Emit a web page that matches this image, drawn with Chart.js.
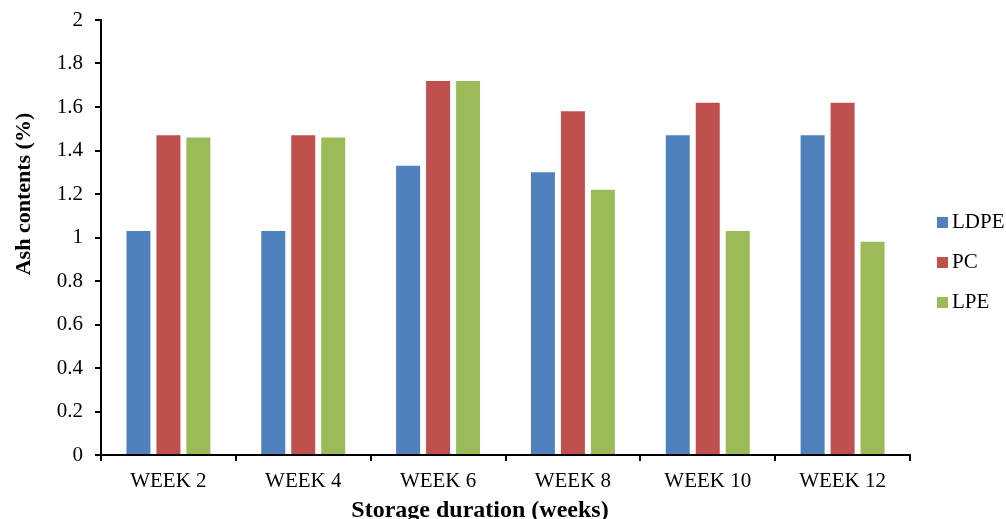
<!DOCTYPE html>
<html>
<head>
<meta charset="utf-8">
<title>Ash contents by storage duration</title>
<script src="https://cdn.jsdelivr.net/npm/chart.js@4.4.1/dist/chart.umd.min.js"></script>
<style>
  html, body { margin: 0; padding: 0; background: #ffffff; }
  #chart { display: block; }
</style>
</head>
<body>
<canvas id="chart" width="1006" height="519"></canvas>
<script>
// Storage weeks on the category axis
const categories = ['WEEK 2', 'WEEK 4', 'WEEK 6', 'WEEK 8', 'WEEK 10', 'WEEK 12'];

// Ash contents (%) for each packaging material
const ldpeValues = [1.03, 1.03, 1.33, 1.30, 1.47, 1.47];
const pcValues   = [1.47, 1.47, 1.72, 1.58, 1.62, 1.62];
const lpeValues  = [1.46, 1.46, 1.72, 1.22, 1.03, 0.98];

const seriesNames = ['LDPE', 'PC', 'LPE'];

// Value axis labels, one per 0.2 step
const yTickLabels = ['0', '0.2', '0.4', '0.6', '0.8', '1', '1.2', '1.4', '1.6', '1.8', '2'];

const yTitle = 'Ash contents (%)';
const xTitle = 'Storage duration (weeks)';

const FONT = "'Liberation Serif', 'Times New Roman', serif";

// Axis titles and a right-hand legend drawn on the canvas
const decorations = {
  id: 'decorations',
  afterDraw(chart) {
    const ctx = chart.ctx;
    ctx.save();
    ctx.fillStyle = '#000000';
    ctx.textAlign = 'center';
    ctx.textBaseline = 'alphabetic';

    // vertical axis title
    ctx.font = 'bold 22px ' + FONT;
    ctx.save();
    ctx.translate(30, 194);
    ctx.rotate(-Math.PI / 2);
    ctx.fillText(yTitle, 0, 0);
    ctx.restore();

    // horizontal axis title
    ctx.font = 'bold 24px ' + FONT;
    ctx.fillText(xTitle, 480, 517);

    // legend
    ctx.font = '21px ' + FONT;
    ctx.textAlign = 'left';
    ctx.textBaseline = 'middle';
    chart.data.datasets.forEach((ds, i) => {
      const cy = 222.5 + i * 40;
      ctx.fillStyle = ds.backgroundColor;
      ctx.fillRect(937, cy - 5.5, 11, 11);
      ctx.fillStyle = '#000000';
      ctx.fillText(ds.label, 952, cy);
    });
    ctx.restore();
  }
};

const colors = ['#4F81BD', '#C0504D', '#9BBB59'];
const seriesValues = [ldpeValues, pcValues, lpeValues];

new Chart(document.getElementById('chart'), {
  type: 'bar',
  data: {
    labels: categories,
    datasets: seriesValues.map((vals, i) => ({
      label: seriesNames[i],
      data: vals,
      backgroundColor: colors[i],
      borderWidth: 0,
      barPercentage: 0.8,
      categoryPercentage: 0.667
    }))
  },
  options: {
    responsive: false,
    animation: false,
    devicePixelRatio: 1,
    layout: { padding: { left: 0, right: 96, top: 20, bottom: 0 } },
    plugins: {
      legend: { display: false },
      tooltip: { enabled: false }
    },
    scales: {
      x: {
        afterFit(scale) { scale.height = 64; },
        grid: {
          drawOnChartArea: false,
          drawTicks: true,
          tickLength: 6,
          color: '#000000',
          lineWidth: 2,
          offset: true
        },
        border: { display: true, color: '#000000', width: 2 },
        ticks: {
          color: '#000000',
          font: { family: FONT, size: 21 },
          padding: 8,
          maxRotation: 0,
          autoSkip: false
        }
      },
      y: {
        min: 0,
        max: 2,
        afterFit(scale) { scale.width = 101; },
        grid: {
          drawOnChartArea: false,
          drawTicks: true,
          tickLength: 6,
          color: '#000000',
          lineWidth: 2
        },
        border: { display: true, color: '#000000', width: 2 },
        ticks: {
          stepSize: 0.2,
          color: '#000000',
          font: { family: FONT, size: 21, lineHeight: 0.6 },
          padding: 12,
          callback: (value) => yTickLabels[Math.round(value / 0.2)]
        }
      }
    }
  },
  plugins: [decorations]
});
</script>
</body>
</html>
